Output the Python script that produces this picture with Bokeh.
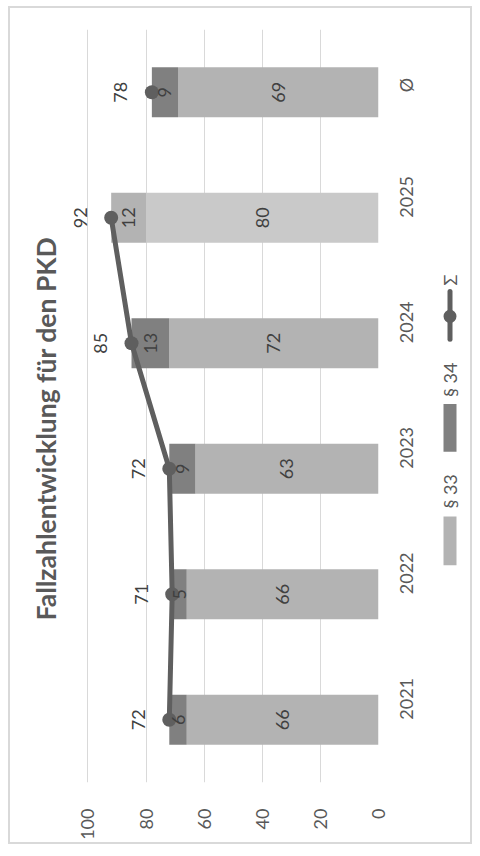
import math
from bokeh.plotting import figure
from bokeh.layouts import row
from bokeh.models import ColumnDataSource, FactorRange, Range1d, FixedTicker
from bokeh.core.properties import value
from bokeh.embed import file_html
from bokeh.resources import INLINE

# ---- data ----
categories = ["2021", "2022", "2023", "2024", "2025", "Ø"]
par33 = [66, 66, 63, 72, 80, 69]
par34 = [6, 5, 9, 13, 12, 9]
total = [72, 71, 72, 85, 92, 78]
value_ticks = [0, 20, 40, 60, 80, 100]
series_names = ["§ 33", "§ 34", "Σ"]
title_text = "Fallzahlentwicklung für den PKD"

# ---- style ----
FONT = "Lato"
ANG = math.pi / 2
C33 = "#B3B3B3"
C33_LIGHT = "#C9C9C9"
C34 = "#808080"
CLINE = "#5F5F5F"
TXT = "#404040"
AXT = "#595959"
colors33 = [C33_LIGHT if c == "2025" else C33 for c in categories]
colors34 = [C33 if c == "2025" else C34 for c in categories]

end34 = [a + b for a, b in zip(par33, par34)]
src = ColumnDataSource(dict(
    cat=categories, s33=par33, s34=par34, end34=end34, tot=total,
    m33=[a / 2 for a in par33], m34=[a + b / 2 for a, b in zip(par33, par34)],
    t33=[str(v) for v in par33], t34=[str(v) for v in par34], ttot=[str(v) for v in total],
    c33=colors33, c34=colors34,
))

H = 834
MB_TOP, MB_BOTTOM = 21, 57

# frame extends a little beyond 100 so that labels above the largest total stay visible
p = figure(width=420, height=H, output_backend="svg", toolbar_location=None,
           x_range=Range1d(106, 0), y_range=FactorRange(factors=categories),
           x_axis_location="below", y_axis_location="right",
           title=title_text, title_location="left",
           min_border_left=60, min_border_right=49,
           min_border_top=MB_TOP, min_border_bottom=MB_BOTTOM)
p.outline_line_color = None

p.title.text_font = FONT
p.title.text_font_style = "bold"
p.title.text_font_size = "26.5px"
p.title.text_color = AXT
p.title.align = "left"
p.title.offset = 162
p.title.standoff = 17

p.xaxis.ticker = FixedTicker(ticks=value_ticks)
p.xgrid.ticker = FixedTicker(ticks=value_ticks)
p.xgrid.grid_line_color = "#D9D9D9"
p.ygrid.visible = False
for ax in (p.xaxis[0], p.yaxis[0]):
    ax.axis_line_color = None
    ax.major_tick_line_color = None
    ax.minor_tick_line_color = None
    ax.major_label_orientation = ANG
    ax.major_label_text_font = FONT
    ax.major_label_text_font_size = "18px"
    ax.major_label_text_color = AXT
p.xaxis.major_label_standoff = 20
p.yaxis.major_label_standoff = 21

BAR_H = 0.4
p.hbar(y="cat", left=0, right="s33", height=BAR_H, fill_color="c33", line_color=None, source=src)
p.hbar(y="cat", left="s33", right="end34", height=BAR_H, fill_color="c34", line_color=None, source=src)

p.line(x=total[:5], y=categories[:5], line_color=CLINE, line_width=5, line_join="round")
p.scatter(x="tot", y="cat", size=14, fill_color=CLINE, line_color=None, source=src)

common = dict(angle=ANG, text_align="center", text_baseline="middle",
              text_font=value(FONT), text_font_size="18px", text_color=TXT, source=src)
p.text(x="m33", y="cat", text="t33", **common)
p.text(x="m34", y="cat", text="t34", **common)
p.text(x="tot", y="cat", text="ttot", x_offset=-31, **common)

# ---- legend panel (rotated), pixel-like coordinates ----
lg = figure(width=40, height=H, output_backend="svg", toolbar_location=None,
            x_range=Range1d(0, 40), y_range=Range1d(0, H - MB_TOP - MB_BOTTOM),
            x_axis_location=None, y_axis_location=None,
            min_border_left=0, min_border_right=0,
            min_border_top=MB_TOP, min_border_bottom=MB_BOTTOM)
lg.outline_line_color = None
lg.xgrid.visible = False
lg.ygrid.visible = False
lg.quad(left=[13, 13], right=[26, 26], bottom=[218, 332], top=[267, 380],
        fill_color=[C33, C34], line_color=None)
lg.segment(x0=[19.5], y0=[445], x1=[19.5], y1=[493], line_color=CLINE, line_width=5,
           line_cap="round")
lg.scatter(x=[19.5], y=[468], size=13, fill_color=CLINE, line_color=None)
lg.text(x=[19.5, 19.5, 19.5], y=[275, 387, 499], text=series_names, angle=ANG,
        text_align="left", text_baseline="middle", text_font=value(FONT),
        text_font_size="18px", text_color=AXT)

layout = row(p, lg)
layout.styles = {"margin-left": "10px", "margin-top": "8px",
                 "outline": "2px solid #D9D9D9"}

open("out.html", "w").write(file_html(layout, INLINE))
